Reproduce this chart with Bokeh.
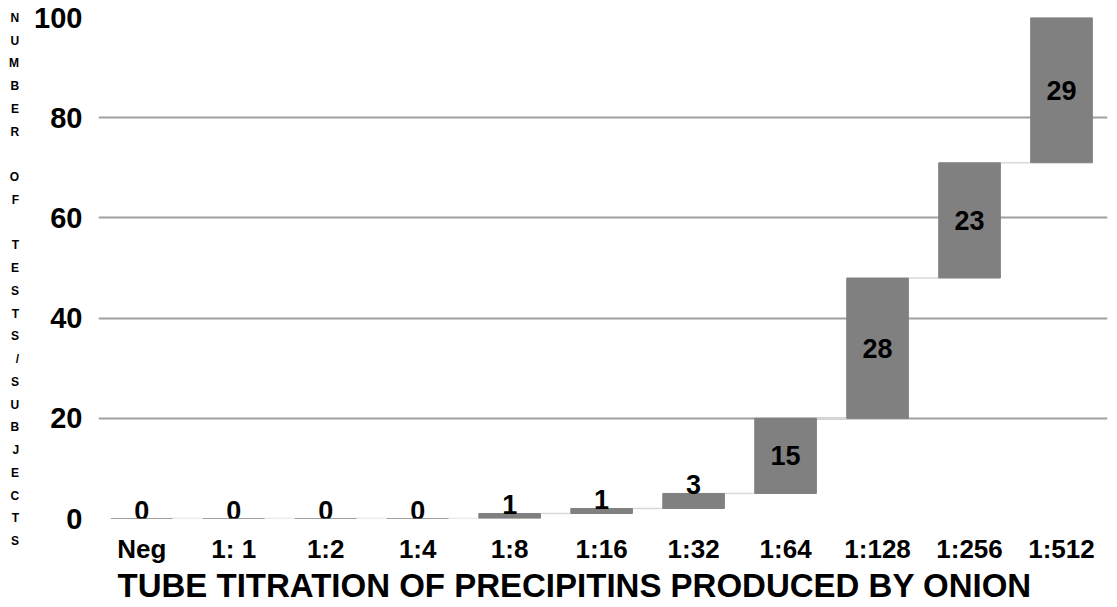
import numpy as np
from bokeh.plotting import figure
from bokeh.models import ColumnDataSource, Range1d, FixedTicker, Title
from bokeh.core.properties import value
from bokeh.embed import file_html
from bokeh.resources import INLINE

categories = ["Neg", "1: 1", "1:2", "1:4", "1:8", "1:16", "1:32", "1:64", "1:128", "1:256", "1:512"]
counts = [0, 0, 0, 0, 1, 1, 3, 15, 28, 23, 29]
y_ticks = [0, 20, 40, 60, 80, 100]
x_title = "TUBE TITRATION OF PRECIPITINS PRODUCED BY ONION"
y_title = "NUMBER OF TESTS/SUBJECTS"

FONT = "Liberation Sans"
BAR = "#808080"
W = 0.67

idx = np.arange(len(categories))
vals = np.array(counts, dtype=float)
end = np.cumsum(vals)
start = end - vals

bars = ColumnDataSource(dict(x=idx, top=end, bottom=start))

big = vals >= 10
lab_y = np.where(big, (start + end) / 2, end)
lab_src_small = ColumnDataSource(dict(x=idx[~big], y=lab_y[~big], t=[str(int(v)) for v in vals[~big]]))
lab_src_big = ColumnDataSource(dict(x=idx[big], y=lab_y[big], t=[str(int(v)) for v in vals[big]]))

conn = ColumnDataSource(dict(x0=idx[:-1] + W / 2, x1=idx[1:] - W / 2, y=end[:-1]))

p = figure(width=1117, height=607, output_backend="svg", toolbar_location=None,
           x_range=Range1d(-0.47, 10.5), y_range=Range1d(0, 100),
           min_border_left=98, min_border_right=10, min_border_top=17, min_border_bottom=89)
p.outline_line_color = None
p.background_fill_color = "white"

p.segment(x0="x0", y0="y", x1="x1", y1="y", source=conn, line_color="#d9d9d9", line_width=1.5)
p.vbar(x="x", top="top", bottom="bottom", width=W, source=bars,
       fill_color=BAR, line_color=BAR, line_width=1)

p.text(x="x", y="y", text="t", source=lab_src_small, text_font=value(FONT), text_font_style="bold",
       text_font_size="27px", text_align="center", text_baseline="bottom", y_offset=1,
       text_color="black")
p.text(x="x", y="y", text="t", source=lab_src_big, text_font=value(FONT), text_font_style="bold",
       text_font_size="27px", text_align="center", text_baseline="middle", text_color="black")

# grid
p.xgrid.grid_line_color = None
p.ygrid.grid_line_color = "#a0a0a0"
p.ygrid.grid_line_width = 2
p.yaxis.ticker = FixedTicker(ticks=y_ticks)
p.xaxis.ticker = FixedTicker(ticks=list(idx))
p.xaxis.major_label_overrides = {int(i): c for i, c in zip(idx, categories)}

for ax in (p.xaxis, p.yaxis):
    ax.axis_line_color = None
    ax.major_tick_line_color = None
    ax.minor_tick_line_color = None
    ax.major_tick_out = 0
    ax.major_tick_in = 0
    ax.minor_tick_out = 0
    ax.minor_tick_in = 0
    ax.major_label_text_font = FONT
    ax.major_label_text_font_style = "bold"
    ax.major_label_text_color = "black"
    ax.axis_label_text_font = FONT
    ax.axis_label_text_font_style = "bold"
    ax.axis_label_text_color = "black"

p.yaxis.major_label_text_font_size = "29px"
p.yaxis.major_label_standoff = 16
p.xaxis.major_label_text_font_size = "26px"
p.xaxis.major_label_standoff = 15

xt = Title(text=x_title, align="left", offset=19, vertical_align="bottom", standoff=-4,
           text_font=FONT, text_font_style="bold", text_font_size="33px", text_color="black")
p.add_layout(xt, "below")

p.yaxis.axis_label = "\n".join([""] + list(y_title))
p.yaxis.axis_label_orientation = "horizontal"
p.yaxis.axis_label_text_font_size = "12px"
p.yaxis.axis_label_text_line_height = 1.625
p.yaxis.axis_label_standoff = 12

open("out.html", "w").write(file_html(p, INLINE))
